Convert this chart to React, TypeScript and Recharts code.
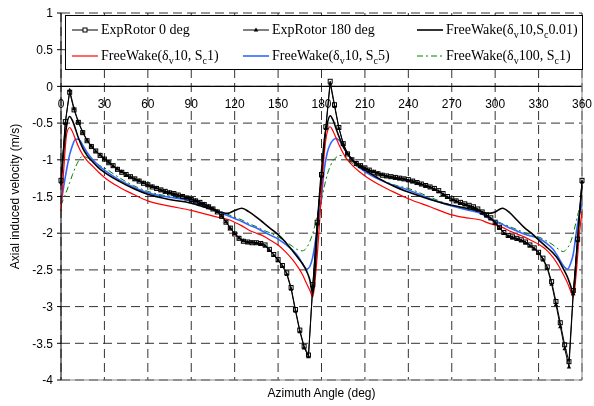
import React from "react"
import { LineChart, Line, XAxis, YAxis, CartesianGrid, ReferenceLine, Legend } from "recharts"

// azimuth angles of the measured points (deg)
const expAngle = [
  0, 3, 6, 9, 12, 15, 18, 21, 24, 27, 30, 33, 36, 39, 42, 45, 48, 51, 54, 57,
  60, 63, 66, 69, 72, 75, 78, 81, 84, 87, 90, 93, 96, 99, 102, 105, 108, 111, 114, 117,
  120, 123, 126, 129, 132, 135, 138, 141, 144, 147, 150, 153, 156, 159, 162, 165, 168, 171, 174, 177,
  180, 183, 186, 189, 192, 195, 198, 201, 204, 207, 210, 213, 216, 219, 222, 225, 228, 231, 234, 237,
  240, 243, 246, 249, 252, 255, 258, 261, 264, 267, 270, 273, 276, 279, 282, 285, 288, 291, 294, 297,
  300, 303, 306, 309, 312, 315, 318, 321, 324, 327, 330, 333, 336, 339, 342, 345, 348, 351, 354, 357,
  360,
]

const expRotor0 = [
  -1.28, -0.48, -0.08, -0.32, -0.49, -0.63, -0.74, -0.82, -0.88, -0.94, -0.99, -1.04, -1.08, -1.13, -1.17, -1.2, -1.23, -1.26, -1.29, -1.32,
  -1.34, -1.37, -1.39, -1.41, -1.43, -1.45, -1.46, -1.48, -1.5, -1.52, -1.54, -1.56, -1.58, -1.61, -1.64, -1.67, -1.71, -1.77, -1.85, -1.93,
  -2.01, -2.07, -2.11, -2.12, -2.13, -2.13, -2.14, -2.16, -2.22, -2.29, -2.36, -2.44, -2.54, -2.74, -3.04, -3.32, -3.54, -3.66, -2.7, -1.85,
  -1.2, -0.55, 0.07, -0.25, -0.56, -0.78, -0.92, -1.0, -1.05, -1.08, -1.11, -1.14, -1.17, -1.19, -1.21, -1.22, -1.23, -1.24, -1.25, -1.26,
  -1.27, -1.29, -1.31, -1.33, -1.35, -1.37, -1.39, -1.42, -1.46, -1.5, -1.53, -1.56, -1.58, -1.6, -1.62, -1.64, -1.67, -1.71, -1.75, -1.79,
  -1.85, -1.92, -1.99, -2.03, -2.05, -2.07, -2.09, -2.12, -2.16, -2.2, -2.26, -2.34, -2.46, -2.66, -2.93, -3.22, -3.52, -3.75, -2.78, -2.08,
  -1.28,
]

const expRotor180 = [
  -1.3, -0.5, -0.05, -0.3, -0.48, -0.62, -0.73, -0.81, -0.88, -0.93, -0.98, -1.03, -1.08, -1.12, -1.16, -1.2, -1.23, -1.26, -1.28, -1.31,
  -1.34, -1.36, -1.38, -1.41, -1.43, -1.44, -1.46, -1.48, -1.49, -1.51, -1.53, -1.55, -1.58, -1.6, -1.63, -1.66, -1.7, -1.76, -1.84, -1.93,
  -2.0, -2.06, -2.1, -2.12, -2.12, -2.13, -2.14, -2.17, -2.23, -2.3, -2.37, -2.45, -2.56, -2.76, -3.06, -3.34, -3.56, -3.68, -2.72, -1.87,
  -1.22, -0.57, 0.04, -0.27, -0.57, -0.78, -0.91, -0.99, -1.04, -1.08, -1.11, -1.14, -1.16, -1.18, -1.2, -1.22, -1.23, -1.24, -1.25, -1.26,
  -1.28, -1.29, -1.31, -1.33, -1.35, -1.37, -1.4, -1.43, -1.47, -1.51, -1.54, -1.56, -1.59, -1.61, -1.63, -1.65, -1.68, -1.72, -1.76, -1.8,
  -1.86, -1.93, -2.0, -2.04, -2.06, -2.08, -2.1, -2.13, -2.17, -2.21, -2.27, -2.36, -2.48, -2.69, -2.97, -3.27, -3.57, -3.82, -2.82, -2.1,
  -1.3,
]

// azimuth angles of the free wake results (deg)
const fwAngle = [
  0, 2, 4, 6, 8, 10, 12, 15, 18, 22, 26, 30, 40, 50, 60, 75, 90,
  100, 110, 115, 120, 125, 130, 135, 140, 145, 150, 155, 160,
  164, 167, 170, 172, 174, 176, 178, 180,
  182, 184, 186, 188, 190, 192, 195, 198,
  202, 206, 210, 220, 230, 240, 255, 270,
  280, 290, 295, 300, 305, 310, 315, 320, 325, 330, 335, 340,
  344, 347, 350, 352, 354, 356, 358, 360,
]

const fwSc001 = [
  -1.35, -0.85, -0.52, -0.41, -0.47, -0.58, -0.7, -0.84, -0.94, -1.03, -1.11, -1.17, -1.29, -1.39, -1.47, -1.54, -1.59,
  -1.65, -1.71, -1.73, -1.69, -1.66, -1.71, -1.78, -1.86, -1.94, -2.02, -2.12, -2.24,
  -2.34, -2.42, -2.53, -2.64, -2.83, -2.35, -1.65, -1.15,
  -0.72, -0.5, -0.4, -0.46, -0.57, -0.68, -0.82, -0.92,
  -1.02, -1.09, -1.14, -1.26, -1.36, -1.44, -1.54, -1.62,
  -1.66, -1.7, -1.73, -1.71, -1.66, -1.72, -1.82, -1.92, -2.0, -2.09, -2.18, -2.27,
  -2.37, -2.48, -2.6, -2.71, -2.82, -2.35, -1.8, -1.35,
]

const fwSc1 = [
  -1.7, -1.1, -0.64, -0.56, -0.62, -0.72, -0.82, -0.93, -1.01, -1.09, -1.17, -1.24, -1.37, -1.47, -1.56, -1.63, -1.69,
  -1.74, -1.79, -1.81, -1.85, -1.9, -1.96, -2.0, -2.04, -2.1, -2.16, -2.25, -2.36,
  -2.47, -2.57, -2.7, -2.78, -2.87, -2.55, -2.05, -1.45,
  -0.9, -0.62, -0.55, -0.61, -0.7, -0.79, -0.91, -1.0,
  -1.09, -1.16, -1.22, -1.34, -1.44, -1.53, -1.64, -1.75,
  -1.79, -1.82, -1.86, -1.89, -1.92, -1.97, -2.01, -2.05, -2.1, -2.15, -2.22, -2.33,
  -2.45, -2.56, -2.68, -2.78, -2.87, -2.55, -2.05, -1.7,
]

const fwSc5 = [
  -1.6, -1.35, -1.12, -0.93, -0.8, -0.72, -0.72, -0.8, -0.9, -1.0, -1.08, -1.14, -1.27, -1.37, -1.45, -1.51, -1.56,
  -1.64, -1.72, -1.76, -1.8, -1.84, -1.89, -1.93, -1.98, -2.03, -2.08, -2.15, -2.23,
  -2.32, -2.42, -2.49, -2.45, -2.32, -2.08, -1.82, -1.5,
  -1.12, -0.9, -0.79, -0.73, -0.71, -0.73, -0.82, -0.92,
  -1.02, -1.1, -1.16, -1.27, -1.35, -1.41, -1.53, -1.63,
  -1.68, -1.73, -1.79, -1.84, -1.88, -1.93, -1.97, -2.01, -2.04, -2.07, -2.13, -2.22,
  -2.34, -2.44, -2.49, -2.42, -2.28, -2.0, -1.76, -1.6,
]

const fwDv100 = [
  -1.62, -1.52, -1.42, -1.31, -1.2, -1.1, -1.02, -0.95, -0.97, -1.02, -1.07, -1.11, -1.24, -1.35, -1.43, -1.5, -1.55,
  -1.63, -1.7, -1.74, -1.78, -1.82, -1.87, -1.91, -1.96, -2.0, -2.05, -2.11, -2.18,
  -2.23, -2.24, -2.19, -2.11, -2.0, -1.85, -1.7, -1.55,
  -1.36, -1.2, -1.09, -1.01, -0.97, -0.94, -0.95, -1.0,
  -1.06, -1.11, -1.15, -1.26, -1.34, -1.39, -1.51, -1.62,
  -1.67, -1.72, -1.78, -1.83, -1.87, -1.91, -1.95, -1.99, -2.02, -2.05, -2.1, -2.16,
  -2.22, -2.25, -2.2, -2.13, -2.0, -1.84, -1.68, -1.58,
]

const xTicks = [0, 30, 60, 90, 120, 150, 180, 210, 240, 270, 300, 330, 360]
const yTicks = [-4, -3.5, -3, -2.5, -2, -1.5, -1, -0.5, 0, 0.5, 1]

const toPoints = (xs: number[], ys: number[]) => xs.map((x, i) => ({ x, y: ys[i] }))

const CHART_W = 586
const CHART_H = 402
const MARGIN = { top: 9, right: 12, left: 1, bottom: 0 }
const X_AXIS_H = 26
const Y_MIN = -4
const Y_MAX = 1
const PLOT_H = CHART_H - MARGIN.top - MARGIN.bottom - X_AXIS_H
const ZERO_Y = MARGIN.top + (PLOT_H * (Y_MAX - 0)) / (Y_MAX - Y_MIN)

const SANS = "'Liberation Sans', Arial, sans-serif"
const SERIF = "'Liberation Serif', 'Times New Roman', serif"

// x tick labels sit under the zero line, like the original
function ZeroLineTick(props: any) {
  const { x, payload } = props
  return (
    <text x={x} y={ZERO_Y + 22} textAnchor="middle" fontSize={12} fontFamily={SANS} fill="#000">
      {payload.value}
    </text>
  )
}

function SquareDot(props: any) {
  const { cx, cy, index } = props
  return <rect key={"sq" + index} x={cx - 2} y={cy - 2} width={4} height={4} fill="none" stroke="#000" strokeWidth={1} />
}

function TriangleDot(props: any) {
  const { cx, cy, index } = props
  return <path key={"tr" + index} d={`M${cx},${cy - 2.3}L${cx + 2.2},${cy + 1.8}L${cx - 2.2},${cy + 1.8}Z`} fill="#000" />
}

const Sub = ({ children }: { children: React.ReactNode }) => (
  <span style={{ fontSize: 10, position: "relative", top: 4 }}>{children}</span>
)

function Sample({ kind }: { kind: string }) {
  return (
    <svg width={26} height={10} style={{ display: "block" }}>
      {kind === "sq" && (
        <>
          <line x1={0} y1={5} x2={26} y2={5} stroke="#000" strokeWidth={1} />
          <rect x={11} y={3} width={4} height={4} fill="#fff" stroke="#000" />
        </>
      )}
      {kind === "tr" && (
        <>
          <line x1={0} y1={5} x2={26} y2={5} stroke="#000" strokeWidth={1} />
          <path d="M13,2.5L15.3,6.5L10.7,6.5Z" fill="#000" />
        </>
      )}
      {kind === "black" && <line x1={0} y1={5} x2={26} y2={5} stroke="#000" strokeWidth={1.6} />}
      {kind === "red" && <line x1={0} y1={5} x2={26} y2={5} stroke="#ff0000" strokeWidth={1.2} />}
      {kind === "blue" && <line x1={0} y1={5} x2={26} y2={5} stroke="#3366ff" strokeWidth={1.6} />}
      {kind === "green" && (
        <line x1={0} y1={5} x2={26} y2={5} stroke="#008000" strokeWidth={1} strokeDasharray="6 3 2 3" />
      )}
    </svg>
  )
}

function LegendBox() {
  const item = (left: number, top: number, kind: string, label: React.ReactNode) => (
    <div style={{ position: "absolute", left, top, display: "flex", alignItems: "center", height: 18 }}>
      <Sample kind={kind} />
      <span style={{ marginLeft: 3, whiteSpace: "nowrap" }}>{label}</span>
    </div>
  )
  return (
    <div
      style={{
        position: "relative",
        width: 518,
        height: 55,
        boxSizing: "border-box",
        border: "1px solid #000",
        background: "#fff",
        fontFamily: SERIF,
        fontSize: 14,
        color: "#000",
        lineHeight: "18px",
      }}
    >
      {item(6, 5, "sq", "ExpRotor 0 deg")}
      {item(177, 5, "tr", "ExpRotor 180 deg")}
      {item(351, 5, "black", <>FreeWake(δ<Sub>v</Sub>10,S<Sub>c</Sub>0.01)</>)}
      {item(6, 31, "red", <>FreeWake(δ<Sub>v</Sub>10, S<Sub>c</Sub>1)</>)}
      {item(177, 31, "blue", <>FreeWake(δ<Sub>v</Sub>10, S<Sub>c</Sub>5)</>)}
      {item(351, 31, "green", <>FreeWake(δ<Sub>v</Sub>100, S<Sub>c</Sub>1)</>)}
    </div>
  )
}

export default function App() {
  return (
    <div style={{ position: "fixed", left: 8, top: 4, width: CHART_W, height: CHART_H, overflow: "visible" }}>
      <LineChart width={CHART_W} height={CHART_H} margin={MARGIN} style={{ overflow: "visible" }}>
        <CartesianGrid stroke="#333" strokeDasharray="9 5" />
        <XAxis
          type="number"
          dataKey="x"
          domain={[0, 360]}
          ticks={xTicks}
          interval={0}
          height={X_AXIS_H}
          axisLine={{ stroke: "#888" }}
          tickLine={false}
          tick={<ZeroLineTick />}
          label={{ value: "Azimuth Angle (deg)", position: "insideBottom", offset: 9, fontSize: 12, fontFamily: SANS, fill: "#000" }}
        />
        <YAxis
          type="number"
          domain={[Y_MIN, Y_MAX]}
          ticks={yTicks}
          interval={0}
          width={52}
          axisLine={{ stroke: "#000" }}
          tickLine={{ stroke: "#000" }}
          tickSize={4}
          tickMargin={4}
          tick={{ fontSize: 12, fontFamily: SANS, fill: "#000" }}
          label={{
            value: "Axial induced velocity (m/s)",
            angle: -90,
            position: "insideLeft",
            offset: 6,
            fontSize: 12,
            fontFamily: SANS,
            fill: "#000",
            style: { textAnchor: "middle" },
          }}
        />
        <ReferenceLine y={0} stroke="#000" strokeWidth={1.2} />
        <ReferenceLine x={360} stroke="#888" />
        <Legend
          layout="vertical"
          align="center"
          verticalAlign="middle"
          content={<LegendBox />}
          wrapperStyle={{ top: 11, left: 57, width: 518, height: 55 }}
        />
        <Line data={toPoints(fwAngle, fwDv100)} dataKey="y" type="monotone" stroke="#008000" strokeWidth={1} strokeDasharray="6 3 2 3" dot={false} isAnimationActive={false} />
        <Line data={toPoints(fwAngle, fwSc5)} dataKey="y" type="monotone" stroke="#3366ff" strokeWidth={1.6} dot={false} isAnimationActive={false} />
        <Line data={toPoints(fwAngle, fwSc1)} dataKey="y" type="monotone" stroke="#ff0000" strokeWidth={1.2} dot={false} isAnimationActive={false} />
        <Line data={toPoints(fwAngle, fwSc001)} dataKey="y" type="monotone" stroke="#000" strokeWidth={1.6} dot={false} isAnimationActive={false} />
        <Line data={toPoints(expAngle, expRotor180)} dataKey="y" type="linear" stroke="#000" strokeWidth={1} dot={<TriangleDot />} isAnimationActive={false} />
        <Line data={toPoints(expAngle, expRotor0)} dataKey="y" type="linear" stroke="#000" strokeWidth={1} dot={<SquareDot />} isAnimationActive={false} />
      </LineChart>
    </div>
  )
}
